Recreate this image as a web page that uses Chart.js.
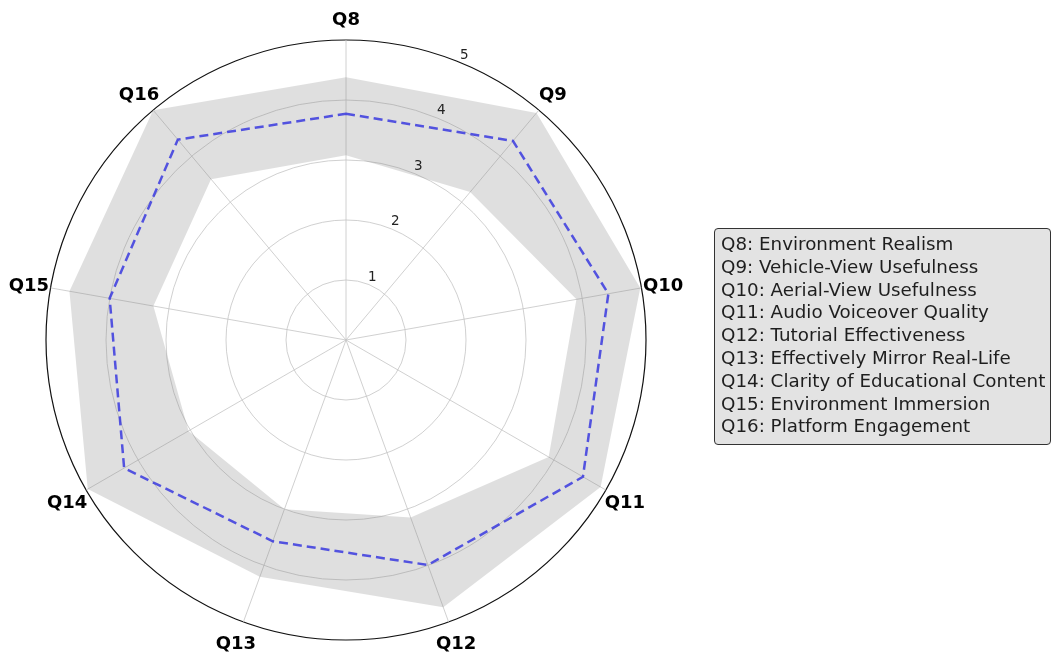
<!DOCTYPE html>
<html><head><meta charset="utf-8">
<script src="https://cdn.jsdelivr.net/npm/chart.js@4"></script>
<style>
html,body{margin:0;padding:0;background:#fff;}
#wrap{position:absolute;left:0;top:0;width:1051px;height:657px;}
#legendBox{position:absolute;left:714px;top:228px;width:337px;height:217px;background:#e3e3e3;border:1px solid #333;border-radius:4px;font-family:"DejaVu Sans";font-size:18.3px;line-height:22.8px;color:#1e1e1e;padding:4px 0 0 6px;box-sizing:border-box;white-space:nowrap;overflow:hidden;}
</style></head>
<body>
<div id="wrap"><canvas id="c" width="1051" height="657"></canvas></div>
<div id="legendBox"></div>
<script>
const categories = ['Q8','Q9','Q10','Q11','Q12','Q13','Q14','Q15','Q16'];
const descriptions = [
  'Environment Realism',
  'Vehicle-View Usefulness',
  'Aerial-View Usefulness',
  'Audio Voiceover Quality',
  'Tutorial Effectiveness',
  'Effectively Mirror Real-Life',
  'Clarity of Educational Content',
  'Environment Immersion',
  'Platform Engagement'
];
const meanValues  = [3.77, 4.33, 4.44, 4.56, 3.99, 3.57, 4.27, 4.00, 4.36];
const upperValues = [4.38, 4.94, 4.98, 4.90, 4.74, 4.20, 4.97, 4.68, 5.00];
const lowerValues = [3.08, 3.22, 3.90, 3.90, 3.15, 3.00, 3.03, 3.26, 3.50];
const tickValues = [1, 2, 3, 4, 5];

document.getElementById('legendBox').innerHTML =
  categories.map((c, i) => '<div>' + c + ': ' + descriptions[i] + '</div>').join('');

const labelPlugin = {
  id: 'customLabels',
  afterDraw(chart) {
    const s = chart.scales.r;
    const ctx = chart.ctx;
    ctx.save();
    ctx.fillStyle = '#000';
    ctx.textAlign = 'center';
    ctx.textBaseline = 'middle';
    ctx.font = 'bold 18px "DejaVu Sans"';
    categories.forEach((c, i) => {
      const p = s.getPointPosition(i, s.drawingArea + 22);
      ctx.fillText(c, p.x, p.y + 2);
    });
    ctx.font = '13.5px "DejaVu Sans"';
    ctx.fillStyle = '#222';
    const ang = 22.5 * Math.PI / 180;
    tickValues.forEach(v => {
      const d = s.getDistanceFromCenterForValue(v) + 9;
      ctx.fillText(String(v), s.xCenter + d * Math.sin(ang), s.yCenter - d * Math.cos(ang) + 1);
    });
    ctx.restore();
  }
};

new Chart(document.getElementById('c'), {
  type: 'radar',
  data: {
    labels: categories,
    datasets: [
      {label: 'upper', data: upperValues, fill: 1, backgroundColor: 'rgba(128,128,128,0.25)',
       borderColor: 'transparent', borderWidth: 0, pointRadius: 0, tension: 0},
      {label: 'lower', data: lowerValues, fill: false, backgroundColor: 'transparent',
       borderColor: 'transparent', borderWidth: 0, pointRadius: 0, tension: 0},
      {label: 'mean', data: meanValues, fill: false, borderColor: 'rgba(20,20,255,0.8)',
       borderWidth: 2.5, borderDash: [9, 5], pointRadius: 0, tension: 0}
    ]
  },
  options: {
    responsive: false,
    animation: false,
    layout: {padding: {left: 46, top: 40, right: 405, bottom: 17}},
    plugins: {legend: {display: false}, tooltip: {enabled: false}, title: {display: false}},
    scales: {
      r: {
        min: 0, max: 5,
        ticks: {stepSize: 1, display: false},
        pointLabels: {display: false},
        grid: {
          circular: true,
          color: c => (c.tick && c.tick.value === 5) ? '#111' : '#c4c4c4',
          lineWidth: c => (c.tick && c.tick.value === 5) ? 1.2 : 0.8
        },
        angleLines: {display: true, color: '#c4c4c4', lineWidth: 0.8}
      }
    }
  },
  plugins: [labelPlugin]
});
</script>
</body></html>
